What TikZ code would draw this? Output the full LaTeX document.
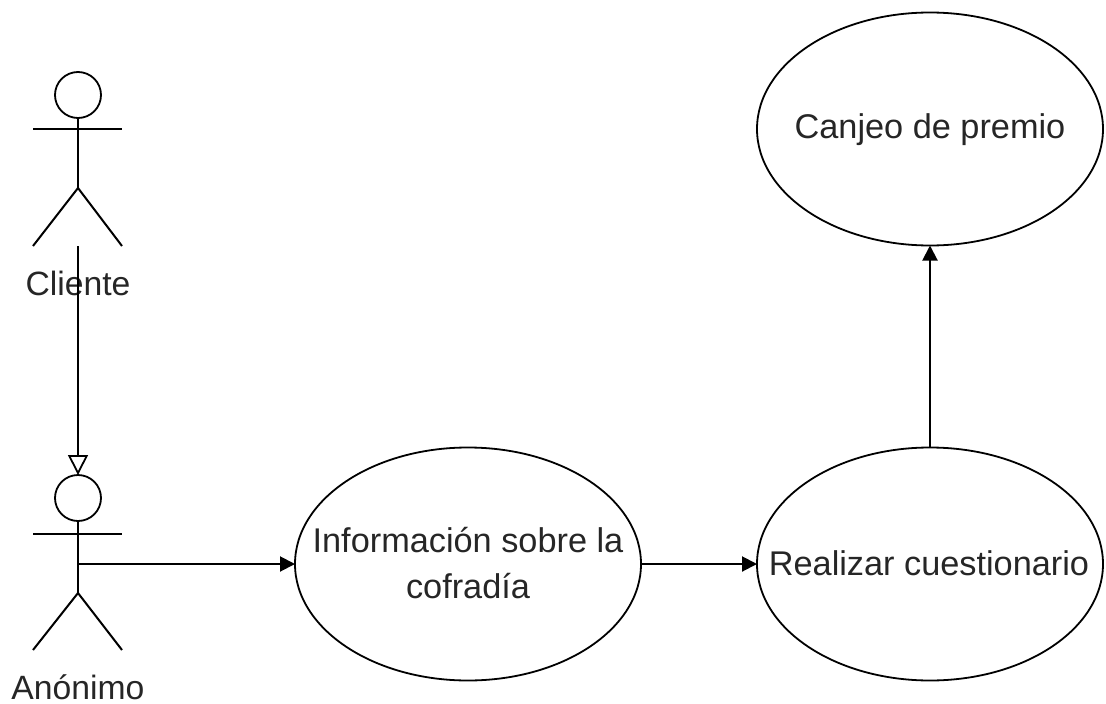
\documentclass[tikz,border=0pt]{standalone}
\usepackage{fontspec}
\setmainfont{Liberation Sans}
\usetikzlibrary{arrows.meta,shapes.geometric}
\tikzset{
 ln/.style={line width=2pt,black},
 uc/.style={draw,ellipse,line width=1.8pt,inner sep=0pt,outer sep=0pt,minimum width=346pt,minimum height=233pt},
 head/.style={draw,circle,line width=1.8pt,inner sep=0pt,outer sep=0pt,minimum size=46pt},
 txt/.style={font=\fontsize{34.3pt}{46pt}\selectfont,align=center,text=black!85,inner sep=0pt},
 actortxt/.style={txt,font=\fontsize{33.7pt}{46pt}\selectfont},
 solidtip/.style={-{Triangle[length=15pt,width=15pt]}},
 opentip/.style={-{Triangle[open,length=20pt,width=20pt,line width=1.8pt]}},
}
\begin{document}
\begin{tikzpicture}[x=1pt,y=-1pt]
\useasboundingbox (0,0) rectangle (1106,704);
\node[head] (c1) at (78,95) {};
\coordinate (c1b) at (78,188);
\coordinate (c1l) at (33,129); \coordinate (c1r) at (122,129);
\coordinate (c1ll) at (33,246); \coordinate (c1rr) at (122,246);
\coordinate (c1f) at (78,246);
\draw[ln] (c1.south) -- (c1b);
\draw[ln] (c1l) -- (c1r);
\draw[ln] (c1ll) -- (c1b) -- (c1rr);
\node[actortxt] (lc) at (78,283) {Cliente};

\node[head] (a1) at (78,498) {};
\coordinate (a1b) at (78,593);
\coordinate (a1l) at (33,534); \coordinate (a1r) at (122,534);
\coordinate (a1ll) at (33,650); \coordinate (a1rr) at (122,650);
\coordinate (a1m) at (78,564);
\draw[ln] (a1.south) -- (a1b);
\draw[ln] (a1l) -- (a1r);
\draw[ln] (a1ll) -- (a1b) -- (a1rr);
\node[actortxt] (la) at (78,687) {Anónimo};

\node[uc] (u1) at (468,564) {};
\node[uc] (u2) at (930,564) {};
\node[uc] (u3) at (930,129) {};
\node[txt] (t1) at (468,563) {Información sobre la\\cofradía};
\node[txt] (t2) at (929,563) {Realizar cuestionario};
\node[txt] (t3) at (930,130) {Canjeo de premio};

\draw[ln,opentip] (c1f) -- (a1.north);
\draw[ln,solidtip] (a1m) -- (u1.west);
\draw[ln,solidtip] (u1.east) -- (u2.west);
\draw[ln,solidtip] (u2.north) -- (u3.south);
\end{tikzpicture}
\end{document}
